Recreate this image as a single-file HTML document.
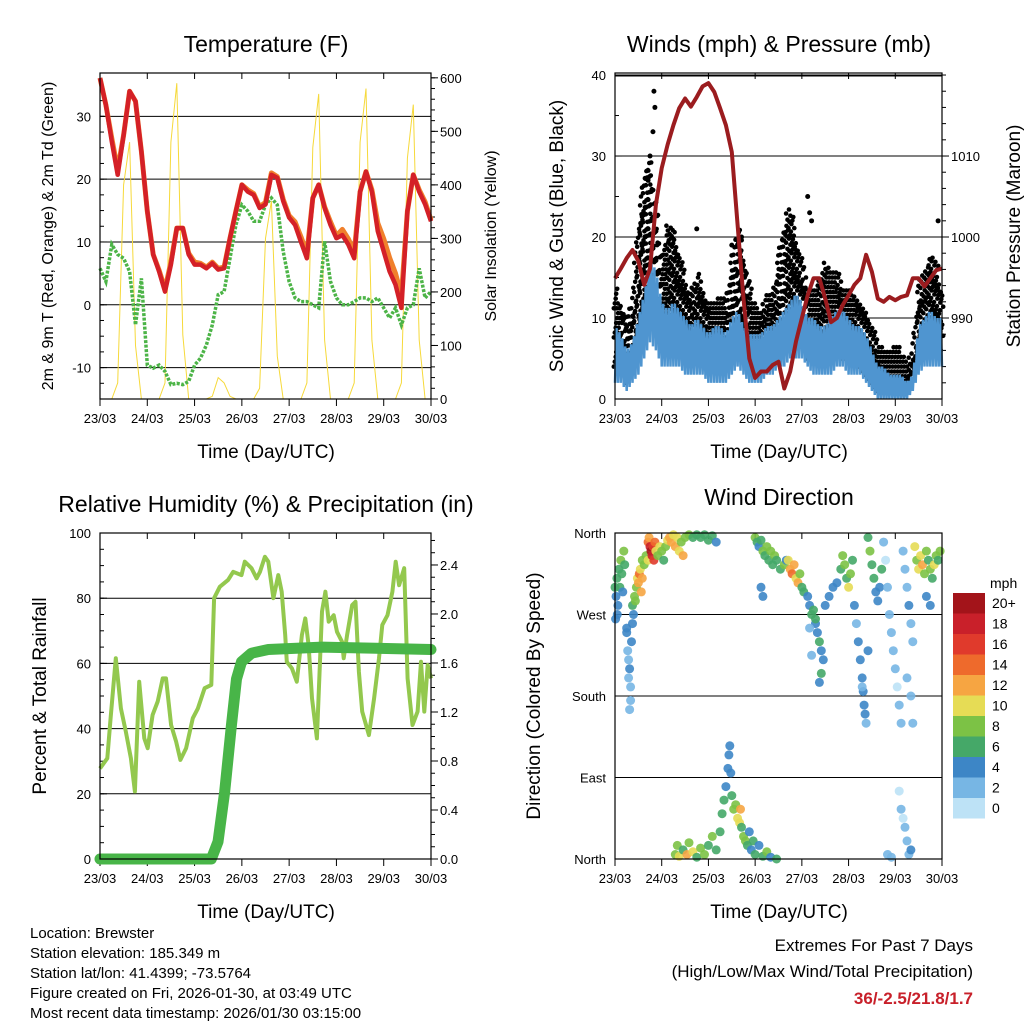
<!DOCTYPE html>
<html><head><meta charset="utf-8">
<style>
html,body{margin:0;padding:0;background:#fff;}
svg{display:block;font-family:"Liberation Sans",sans-serif;}
</style></head>
<body>
<svg id="root" width="1024" height="1024" viewBox="0 0 1024 1024" xmlns="http://www.w3.org/2000/svg">
<rect width="1024" height="1024" fill="#fff"/>
<text x="266" y="52" font-size="23" text-anchor="middle">Temperature (F)</text>
<text x="779" y="52" font-size="23" text-anchor="middle">Winds (mph) &amp; Pressure (mb)</text>
<text x="266" y="512" font-size="23" text-anchor="middle">Relative Humidity (%) &amp; Precipitation (in)</text>
<text x="779" y="505" font-size="23" text-anchor="middle">Wind Direction</text>
<text x="266" y="458" font-size="19" text-anchor="middle">Time (Day/UTC)</text>
<text x="779" y="458" font-size="19" text-anchor="middle">Time (Day/UTC)</text>
<text x="266" y="918" font-size="19" text-anchor="middle">Time (Day/UTC)</text>
<text x="779" y="918" font-size="19" text-anchor="middle">Time (Day/UTC)</text>
<text transform="translate(53,236) rotate(-90)" font-size="16" text-anchor="middle">2m &amp; 9m T (Red, Orange) &amp; 2m Td (Green)</text>
<text transform="translate(496,236) rotate(-90)" font-size="16" text-anchor="middle">Solar Insolation (Yellow)</text>
<text transform="translate(563,236) rotate(-90)" font-size="19" text-anchor="middle">Sonic Wind &amp; Gust (Blue, Black)</text>
<text transform="translate(1020,236) rotate(-90)" font-size="19" text-anchor="middle">Station Pressure (Maroon)</text>
<text transform="translate(46,696) rotate(-90)" font-size="19" text-anchor="middle">Percent &amp; Total Rainfall</text>
<text transform="translate(540,696) rotate(-90)" font-size="19" text-anchor="middle">Direction (Colored By Speed)</text>
<g font-size="15">
<text x="30" y="938">Location: Brewster</text>
<text x="30" y="958">Station elevation: 185.349 m</text>
<text x="30" y="978">Station lat/lon: 41.4399; -73.5764</text>
<text x="30" y="998">Figure created on Fri, 2026-01-30, at 03:49 UTC</text>
<text x="30" y="1018">Most recent data timestamp: 2026/01/30 03:15:00</text>
</g>
<text x="973" y="951" font-size="17" text-anchor="end">Extremes For Past 7 Days</text>
<text x="973" y="977" font-size="17" text-anchor="end">(High/Low/Max Wind/Total Precipitation)</text>
<text x="973" y="1004" font-size="17" font-weight="bold" fill="#c8202a" text-anchor="end">36/-2.5/21.8/1.7</text>
<text x="990" y="588" font-size="14">mph</text>
</svg>
<script>
const dayLabels=["23/03","24/03","25/03","26/03","27/03","28/03","29/03","30/03"];
const tempRed=[36.1,31.8,26,20.7,27,34,32.4,24.4,14.9,8,5.3,2.1,6.4,12.2,12.2,8,6.4,6.4,5.8,6.6,5.6,5.8,10.6,14.9,19.1,18,17.5,15.4,16,20.7,20.2,16.5,13.9,12.7,10,7.4,17,19.1,15.4,12.7,10.6,11.1,9.6,7.4,18,21.2,18,11.7,8.5,5.3,3.2,-0.5,14.9,20.7,18,16,13.3];
const tempOrange=[36.1,31.8,26.5,21.5,27,34,32.4,24.4,14.9,8,5.5,2.5,6.8,12.2,12.2,8.2,6.8,6.6,6,6.8,5.8,6,10.6,14.9,19.1,18.3,17.7,15.6,16.3,21,20.4,16.8,14.2,13.2,10.8,8.2,17,19.1,15.6,13.2,11,12,10.5,8.4,18,21.2,18.3,13,10.5,7.5,5,1.5,14.9,20.7,18.3,16.4,13.5];
const dewPoint=[5.8,3.7,9.6,8,7.4,5.3,-3.2,4.2,-9.6,-10.1,-9.6,-10.6,-12.7,-12.5,-12.7,-12.2,-9.6,-8.5,-6.4,-3.2,1.6,2.1,7.4,12.7,15.9,14.9,13.3,13.3,15.9,17,15.9,8.5,3.7,1.1,0.5,0.5,0,-0.5,10.1,3.7,1.1,0,0,0.5,1.1,1.1,0.5,1.1,-0.5,-2.1,-0.5,-3.2,-0.5,0,5.8,1.1,2.1];
const solar=[0,0,0,30,400,480,100,0,0,0,0,30,480,590,120,0,0,0,0,5,40,30,5,0,0,0,0,20,300,370,80,0,0,0,0,30,470,570,110,0,0,0,0,30,480,580,110,0,0,0,0,30,450,550,110,0,0];
const pressure=[994.9,996.1,997.4,998.4,997,994.1,996.1,1004,1008.5,1011.4,1013.8,1015.9,1017.1,1016.1,1017.3,1018.6,1019,1017.9,1015.9,1013.8,1010.5,1001.5,992.4,985,982.6,983.4,983.4,984.2,984.6,981.3,983.4,987.1,990,992.8,994.9,994.9,992.4,989.5,990,991.6,992.8,994.1,994.9,997.8,995.7,992.4,992,992.6,992.2,992.6,992.8,994.9,994.9,993.9,994.9,995.9,996.1];
const windHi=[9,8,6,7,10,13,17,16,12,11,12,11,10,9,10,9,8,9,9,8,10,11,9,8,8,8,9,9,10,11,12,13,12,10,10,9,9,10,11,11,10,9,9,8,6,4,4,3,3,3,2,3,9,10,11,10,10];
const windLo=[2,2,1,2,3,5,7,6,4,4,4,4,3,3,3,3,2,2,2,2,3,4,3,2,2,2,3,3,4,4,5,5,5,4,3,3,3,3,4,4,3,3,3,2,1,0,0,0,0,0,0,1,3,4,4,4,4];
const gustHi=[14,12,10,12,22,28,30,24,17,22,21,18,15,13,16,14,12,12,13,13,17,22,18,14,12,11,13,13,18,22,24,20,17,14,14,15,17,16,16,14,14,13,12,11,9,7,6,6,7,6,5,6,15,16,18,17,14];
const gustLo=[4,4,2,4,8,11,13,10,7,7,8,7,6,5,6,5,4,4,4,4,6,8,6,4,4,4,5,5,6,8,9,8,7,5,5,5,6,6,6,5,5,5,4,3,2,1,1,1,1,1,1,2,6,7,8,7,6];
const gustOutHour=[20,20.5,19.5,18,17,42,99,100,101,118,166,65,60];
const gustOutVal=[38,36,33,30,27,21,25,23,22,12,22,20,19];
const rhHour=[0,3.7,5.4,8,10.6,13.1,15.7,17.7,19.9,22.5,24.2,26.7,29.3,31.8,33.5,36.1,38.6,40.8,43.7,47.1,49.7,53.1,56.5,57.9,60.8,65,67.6,71.8,73.5,76.9,79.5,81.2,83.7,85.4,88,90.5,92.2,94,94.8,97.4,99.9,102.5,104.2,105.9,107.6,110.1,112.7,114.4,116.1,118.6,120.3,122.9,123.7,125.4,128,129.7,131.4,133.1,136.5,139.1,141.6,143.3,145.9,148.4,150.1,151.8,154.4,156.1,158.6,161.2,162.9,164.6,166.3,168];
const rhVal=[27.8,30.9,43.2,61.6,46.2,39.1,30.9,20.7,54.4,37,34,44.2,48.3,55.4,55.4,41.1,36,30.4,34,43.2,46.2,52.4,53.4,80,83.5,85.6,88.1,87.1,91.2,89.2,86.1,88.1,92.7,91.2,80,87.1,82,68.7,60.5,58.5,54.4,68.7,73.8,65.6,49.3,37,75.9,82,72.8,74.8,69.7,66.6,61.6,68.7,77.9,78.9,57.4,45.2,38,49.3,61.6,71.8,74.8,82,91.2,84,89.2,55.4,41.1,45.2,60.5,45.2,59.5,55.4];
const rainHour=[0,56.5,59.9,63.3,66.7,69.3,71.8,76.9,85.4,112.7,168];
const rainVal=[0,0,0.14,0.55,1.09,1.47,1.61,1.68,1.71,1.73,1.71];
const dirHour=[0,0.5,1,1.5,2,2.5,3,3.5,4,4.5,5,0.3,1.2,6,6.5,7,7.5,7,8,8,8.5,9,9.5,7.5,6,9,10,11,11.5,12,12.5,13,14,14,15,16,17,10.5,13.5,17,17.5,18,18.5,19,19.5,20,20.5,21,22,23,24,25,26,27,28,29,30,31,32,33,34,35,36,38,40,42,44,46,48,50,52,31,32,33,35,37,38,40,42,44,46,48,50,52,54,55,56,57,58,58.5,59,59.5,60,61,62,63,64,64.5,65,66,67,68,69,70,71,72,74,76,78,80,83,72,73,74,75,76,77,78,79,80,81,82,83,85,87,88,75,76,89,90,91,92,93,94,95,96,97,99,100,101,102,103,104,105,106,107,106,105,100,101,103,108,110,112,114,116,117,118,119,120,121,122,123,124,125,126,127,127.5,128,128.5,129,127,130,130,131,132,133,134,135,136,137,138,139,140,141,142,143,144,145,146,147,148,149,150,151,152,153,150,152,153,146,147,149,150,151,140,142,152,148,154,155,156,157,158,159,160,161,162,163,164,165,166,167,160,162];
const dirDeg=[300,290,310,280,320,300,330,315,295,340,325,265,270,250,230,220,210,200,190,175,240,260,270,165,255,280,290,300,310,305,315,320,330,310,325,335,330,285,295,350,355,345,340,335,345,330,350,340,335,345,340,330,345,352,355,350,358,345,355,340,350,335,355,358,355,358,355,358,352,357,350,5,15,3,10,5,18,8,2,12,5,15,25,10,30,50,65,80,100,115,125,95,70,55,60,45,40,55,35,25,20,15,30,10,20,5,15,3,8,2,0,355,350,345,352,340,335,345,330,340,325,335,330,320,325,330,300,290,330,320,315,325,310,305,315,300,295,290,280,270,275,260,250,240,230,220,205,195,255,225,265,280,290,300,305,320,335,325,310,300,315,330,280,260,240,220,200,185,170,160,150,190,230,355,340,325,310,295,285,300,320,350,330,300,270,250,230,210,190,170,150,340,320,300,280,260,240,200,180,150,75,55,35,20,5,5,2,10,45,345,330,320,335,325,315,340,330,320,310,325,335,330,340,290,280];
const dirSpd=[5,4,6,4,6,5,7,6,4,7,6,4,3,3,2,2,3,2,2,2,3,4,3,2,4,5,7,8,10,12,13,9,8,11,7,8,9,8,12,13,12,17,19,17,16,15,14,10,8,9,7,6,8,10,11,12,10,11,9,10,8,12,7,7,6,6,5,5,6,5,4,7,8,10,6,11,7,9,6,7,8,6,7,5,6,6,5,4,3,3,4,4,6,7,8,9,10,12,6,7,8,6,4,4,5,6,4,6,7,4,6,8,6,4,5,7,6,8,5,7,6,8,5,6,7,4,4,4,10,12,13,11,10,12,8,6,5,4,3,5,6,4,3,5,4,4,5,3,2,2,6,3,4,4,3,6,7,8,6,9,7,5,3,2,3,3,4,4,4,3,2,2,3,6,7,5,6,4,4,3,5,1,0,1,2,1,1,2,0,1,1,1,1,2,3,2,1,2,2,1,0,1,1,2,2,1,2,3,0,9,8,10,9,11,8,7,6,8,5,9,8,6,7,4,4];
const tempTicks=[-10,0,10,20,30];
const solarTicks=[0,100,200,300,400,500,600];
const windTicks=[0,10,20,30,40];
const presTicks=[990,1000,1010];
const rhTicks=[0,20,40,60,80,100];
const rainTicks=[0,0.4,0.8,1.2,1.6,2.0,2.4];
const dirTicks=[0,90,180,270,360];
const dirNames=["North","East","South","West","North"];
const cbLabels=["20+","18","16","14","12","10","8","6","4","2","0"];
const cbColors=["#a3141a","#c9202a","#e03a2c","#ee6a2c","#f6a542","#e6dc55","#7cc245","#45a868","#3d86c6","#77b6e4","#bde2f6"];

const NS="http://www.w3.org/2000/svg";
const root=document.getElementById('root');
function mk(tag,attrs,parent){const e=document.createElementNS(NS,tag);for(const k in attrs)e.setAttribute(k,attrs[k]);(parent||root).appendChild(e);return e;}
function lin(d0,d1,r0,r1){return v=>r0+(v-d0)*(r1-r0)/(d1-d0);}

const P=[
 {x0:100,x1:431,y0:73,y1:399},{x0:615,x1:942,y0:73,y1:399},
 {x0:100,x1:431,y0:533,y1:859},{x0:615,x1:942,y0:533,y1:859}];
const names=["temperature","wind","humidity","direction"];

const xs=P.map(p=>lin(0,168,p.x0,p.x1));
const yT=lin(-15,36.9,399,73), yS=lin(0,609,399,73);
const yW=lin(0,40.25,399,73), yP=lin(980,1020.25,399,73);
const yR=lin(0,100,859,533), yRain=lin(0,2.661,859,533);
const yD=lin(0,360,859,533);

function frame(i,leftTicks,ly,leftLab,rightTicks,ry,rightLab,minorR,minorL){
 const p=P[i];const g=mk('g',{});
 
 
 leftTicks.forEach((t,k)=>{const y=ly(t);
  const gl=mk('line',{x1:p.x0,x2:p.x1,y1:y,y2:y,stroke:'#000','stroke-width':1},g);
  
  
  const tx=mk('text',{x:p.x0-9,y:y+5,'font-size':13,'text-anchor':'end'},g);tx.textContent=leftLab[k];
  
  
  mk('line',{x1:p.x0,x2:p.x0+7,y1:y,y2:y,stroke:'#000'},g);
 });
 (minorL||[]).forEach(t=>{const y=ly(t);mk('line',{x1:p.x0,x2:p.x0+4,y1:y,y2:y,stroke:'#000'},g);});
 rightTicks.forEach((t,k)=>{const y=ry(t);
  mk('line',{x1:p.x1,x2:p.x1+7,y1:y,y2:y,stroke:'#000'},g);
  if(rightLab){const tx=mk('text',{x:p.x1+9,y:y+5,'font-size':13},g);tx.textContent=rightLab[k];
  
  }
 });
 (minorR||[]).forEach(t=>{const y=ry(t);mk('line',{x1:p.x1,x2:p.x1+4,y1:y,y2:y,stroke:'#000'},g);});
 dayLabels.forEach((d,k)=>{const x=xs[i](k*24);
  mk('line',{x1:x,x2:x,y1:p.y1,y2:p.y1+7,stroke:'#000'},g);
  mk('line',{x1:x,x2:x,y1:p.y0,y2:p.y0+6,stroke:'#000'},g);
  const tx=mk('text',{x:x,y:p.y1+24,'font-size':13,'text-anchor':'middle'},g);tx.textContent=d;
  
  
 });
}
function border(i){const p=P[i];const r=mk('rect',{x:p.x0,y:p.y0,width:p.x1-p.x0,height:p.y1-p.y0,fill:'none',stroke:'#000','stroke-width':1.2});
 
 }
function rng(a,b,s){const o=[];for(let v=a;v<=b+1e-9;v+=s)o.push(+v.toFixed(3));return o;}
function path3h(arr,x,y){return arr.map((v,k)=>(k?'L':'M')+x(k*3).toFixed(1)+','+y(v).toFixed(1)).join('');}
function interp(arr,h){const k=Math.min(Math.floor(h/3),arr.length-2);const f=(h-k*3)/3;return arr[k]+(arr[k+1]-arr[k])*f;}

frame(0,tempTicks,yT,tempTicks.map(String),solarTicks,yS,solarTicks.map(String),rng(0,600,20),rng(-15,35,2.5));
let e;
e=mk('path',{d:path3h(solar,xs[0],yS),fill:'none',stroke:'#f6d93a','stroke-width':1});


e=mk('path',{d:path3h(dewPoint,xs[0],yT),fill:'none',stroke:'#4cb447','stroke-width':3.5,'stroke-dasharray':'3 1.5'});


e=mk('path',{d:path3h(tempOrange,xs[0],yT),fill:'none',stroke:'#f0802c','stroke-width':5,'stroke-linejoin':'round'});


e=mk('path',{d:path3h(tempRed,xs[0],yT),fill:'none',stroke:'#d42027','stroke-width':4.5,'stroke-linejoin':'round'});


border(0);

frame(1,windTicks,yW,windTicks.map(String),presTicks,yP,presTicks.map(String),rng(982,1020,2),rng(0,40,5));
const gg=mk('g',{fill:'#000'});


for(let h=0,n=0;h<=168;h+=0.5,n++){const lo=interp(gustLo,h),hi=interp(gustHi,h);
 for(let v=lo+(n%3)*0.6,m=0;v<=hi;v+=1.8,m++){mk('circle',{cx:(xs[1](h)+((m%2)?1.2:-1.2)).toFixed(1),cy:yW(v).toFixed(1),r:2.3},gg);}
}
gustOutHour.forEach((h,k)=>{const c=mk('circle',{cx:xs[1](h),cy:yW(gustOutVal[k]),r:2.5},gg);
 
 });
let zz='';for(let h=0,n=0;h<=168;h+=0.75,n++){const v=n%2?interp(windHi,h):interp(windLo,h);zz+=(n?'L':'M')+xs[1](h).toFixed(1)+','+yW(v).toFixed(1);}
e=mk('path',{d:zz,fill:'none',stroke:'#4f95d0','stroke-width':2.5});


e=mk('path',{d:path3h(pressure,xs[1],yP),fill:'none',stroke:'#9b1c1f','stroke-width':4,'stroke-linejoin':'round'});


mk('line',{x1:615,x2:942,y1:76,y2:76,stroke:'#000'});
border(1);

frame(2,rhTicks,yR,rhTicks.map(String),rainTicks,yRain,rainTicks.map(v=>v.toFixed(1)),rng(0,2.6,0.1),rng(0,100,5));
e=mk('path',{d:rhHour.map((h,k)=>(k?'L':'M')+xs[2](h).toFixed(1)+','+yR(rhVal[k]).toFixed(1)).join(''),fill:'none',stroke:'#93c84e','stroke-width':4,'stroke-linejoin':'round'});


e=mk('path',{d:rainHour.map((h,k)=>(k?'L':'M')+xs[2](h).toFixed(1)+','+yRain(rainVal[k]).toFixed(1)).join(''),fill:'none',stroke:'#48b548','stroke-width':11,'stroke-linecap':'round','stroke-linejoin':'round'});


border(2);

frame(3,dirTicks,yD,dirNames,[],yD,null,[],[]);
function spdColor(s){const idx=Math.min(10,Math.max(0,Math.round(s/2)));return cbColors[10-idx];}
const dg=mk('g',{});


dirHour.forEach((h,k)=>{const c=mk('circle',{cx:xs[3](h).toFixed(1),cy:yD(dirDeg[k]).toFixed(1),r:4.5,fill:spdColor(dirSpd[k]),'fill-opacity':0.9},dg);
 
 });
border(3);
cbLabels.forEach((l,k)=>{const y=593+k*20.5;
 const r=mk('rect',{x:953,y:y,width:32,height:20.5,fill:cbColors[k]});
 
 
 const t=mk('text',{x:992,y:y+15,'font-size':14});t.textContent=l;
 
 
});
</script>
</body></html>
